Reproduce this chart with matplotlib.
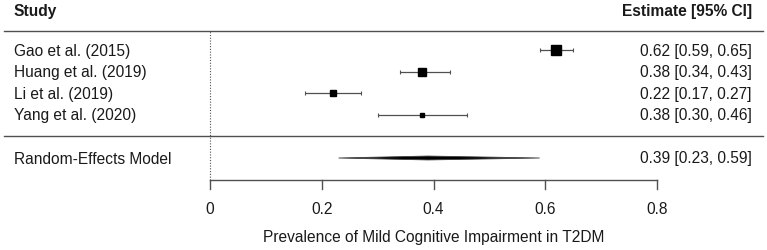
import numpy as np
import matplotlib.pyplot as plt
import matplotlib.patches as mpatches

plt.rcParams['font.family'] = ['Liberation Sans', 'DejaVu Sans']

# data
studies = ["Gao et al. (2015)", "Huang et al. (2019)", "Li et al. (2019)", "Yang et al. (2020)"]
est = [0.62, 0.38, 0.22, 0.38]
lo = [0.59, 0.34, 0.17, 0.30]
hi = [0.65, 0.43, 0.27, 0.46]
re_label = "Random-Effects Model"
re_est, re_lo, re_hi = 0.39, 0.23, 0.59
xticks = [0, 0.2, 0.4, 0.6, 0.8]
xlabel = "Prevalence of Mild Cognitive Impairment in T2DM"

# box sizes (px) ~ study weight
box_px = [10, 8.5, 6, 3.5]

W, H, DPI = 767, 251, 100
fig = plt.figure(figsize=(W / DPI, H / DPI), dpi=DPI)
ax = fig.add_axes([0, 0, 1, 1])
px = 558.75  # pixels per unit on x
x0 = 210
row = 21.6
ax.set_xlim(-x0 / px, (W - x0) / px)
ax.set_ylim(-1 - 92 / row, 4 + 51 / row)
ax.axis('off')

txt = '#1a1a1a'
lc = '#505050'
fs = 11.2
xr = (752 - x0) / px
xl = (14 - x0) / px

ys = np.arange(len(studies), 0, -1)
for y, s, e, l, h, b in zip(ys, studies, est, lo, hi, box_px):
    ax.text(xl, y, s, ha='left', va='center', fontsize=fs, color=txt)
    ax.text(xr, y, f"{e:.2f} [{l:.2f}, {h:.2f}]", ha='right', va='center', fontsize=fs, color=txt)
    ax.errorbar(e, y, xerr=[[e - l], [h - e]], fmt='none', ecolor=lc, elinewidth=0.9,
                capsize=1.6, capthick=0.8)
    ax.plot(e, y, marker='s', ms=b * 0.72, color='black', mec='black', lw=0)

# summary diamond
yre = -1
hh = 0.09
ax.add_patch(mpatches.Polygon([[re_lo, yre], [re_est, yre + hh], [re_hi, yre], [re_est, yre - hh]],
                              closed=True, fc='black', ec='#404040', lw=0.6))
ax.text(xl, yre, re_label, ha='left', va='center', fontsize=fs, color=txt)
ax.text(xr, yre, f"{re_est:.2f} [{re_lo:.2f}, {re_hi:.2f}]", ha='right', va='center', fontsize=fs, color=txt)

# headers and rules
yh = 4 + 40 / row
ax.text(xl, yh, "Study", ha='left', va='center', fontsize=fs, fontweight='bold', color=txt)
ax.text(xr, yh, "Estimate [95% CI]", ha='right', va='center', fontsize=fs, fontweight='bold', color=txt)
ytop = 4 + 19 / row
xa, xb = (4 - x0) / px, (763 - x0) / px
ax.plot([xa, xb], [ytop, ytop], color=lc, lw=1.0)
ax.plot([xa, xb], [0, 0], color=lc, lw=1.0)

# reference line and x axis
yax = -2
ax.plot([0, 0], [yax, ytop], color=lc, lw=0.8, ls=(0, (1, 1.5)))
ax.plot([xticks[0], xticks[-1]], [yax, yax], color=lc, lw=1.0)
tl = 9 / row
for t in xticks:
    ax.plot([t, t], [yax, yax - tl], color=lc, lw=1.0)
    ax.text(t, -1 - 51 / row, f"{t:g}", ha='center', va='center', fontsize=fs, color=txt)
ax.text(0.4, -1 - 79 / row, xlabel, ha='center', va='center', fontsize=fs, color=txt)

fig.savefig('out.png', dpi=DPI)
